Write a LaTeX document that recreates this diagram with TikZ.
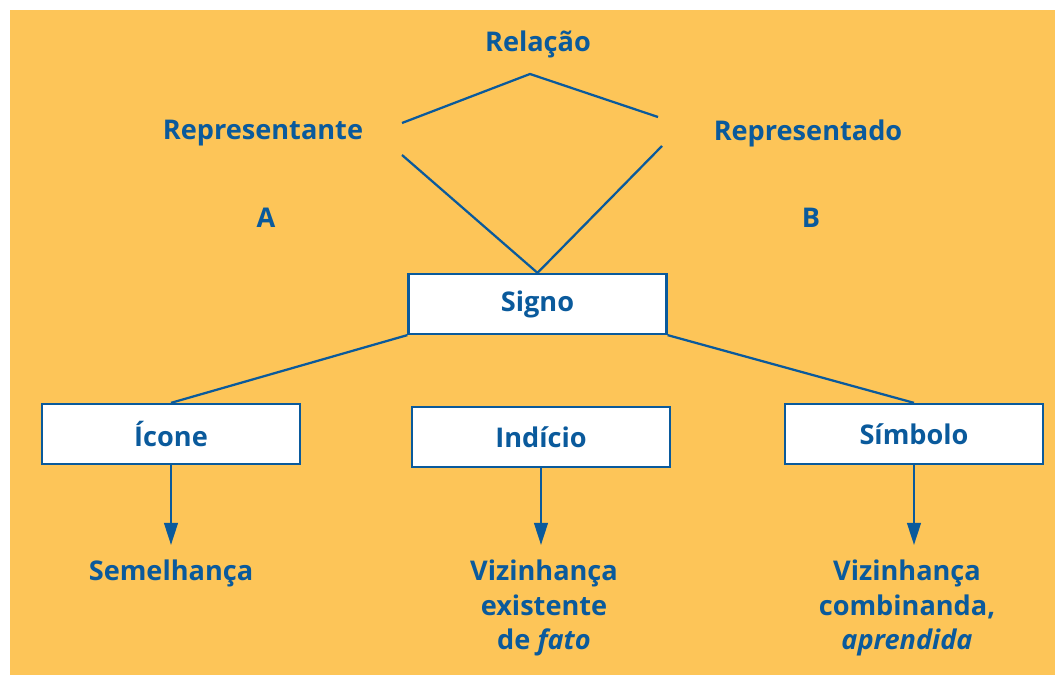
\documentclass[tikz,border=0pt]{standalone}
\usepackage{fontspec}
\setmainfont{Open Sans}
\usetikzlibrary{arrows.meta}
\definecolor{signblue}{HTML}{0A5A9C}
\definecolor{signbg}{HTML}{FDC558}

\begin{document}
\begin{tikzpicture}[x=0.025cm,y=-0.025cm,
font=\bfseries\fontsize{19.3}{24.8}\selectfont,
box/.style={draw=signblue, fill=white, line width=1.6pt, minimum width=6.45cm,
    minimum height=1.5cm, text=signblue},
word/.style={text=signblue, align=center},
link/.style={draw=signblue, line width=1.6pt},
arr/.style={link, -{Triangle[length=5.5mm, width=3.4mm]}}]
\useasboundingbox (0,0) rectangle (1055,675);
\fill[signbg] (10,10) rectangle (1055,675);
% top of the triangle
\node[word] (relacao) at (538,44) {Relação};
\node[word] (repte) at (263,133) {Representante};
\node[word] (repdo) at (808,133) {Representado};
\node[word] (a) at (266,218) {A};
\node[word] (b) at (811,218) {B};
\coordinate (peak) at (530,74);
\coordinate (ul) at (402,123);
\coordinate (ur) at (658,117);
\coordinate (ll) at (402,155);
\coordinate (lr) at (662,146);
% boxes
\node[box] (signo) at (537.5,304) {Signo};
\node[box] (icone) at (171,434) {Ícone};
\node[box] (indicio) at (541,437) {Indício};
\node[box] (simbolo) at (914,434) {Símbolo};
\draw[link] (ul) -- (peak) -- (ur);
\draw[link] (ll) -- (signo.north) -- (lr);
\draw[link] (signo.south west) -- (icone.north);
\draw[link] (signo.south east) -- (simbolo.north);
% arrows down
\coordinate (t1) at (icone.south |- 0,545);
\coordinate (t2) at (indicio.south |- 0,545);
\coordinate (t3) at (simbolo.south |- 0,545);
\draw[arr] (icone.south) -- (t1);
\draw[arr] (indicio.south) -- (t2);
\draw[arr] (simbolo.south) -- (t3);
\node[word] (semel) at (171,573) {Semelhança};
\node[word] (viz1) at (544,608) {Vizinhança\\existente\\de \textit{fato}};
\node[word] (viz2) at (907,608) {Vizinhança\\combinanda,\\\textit{aprendida}};
\end{tikzpicture}
\end{document}
